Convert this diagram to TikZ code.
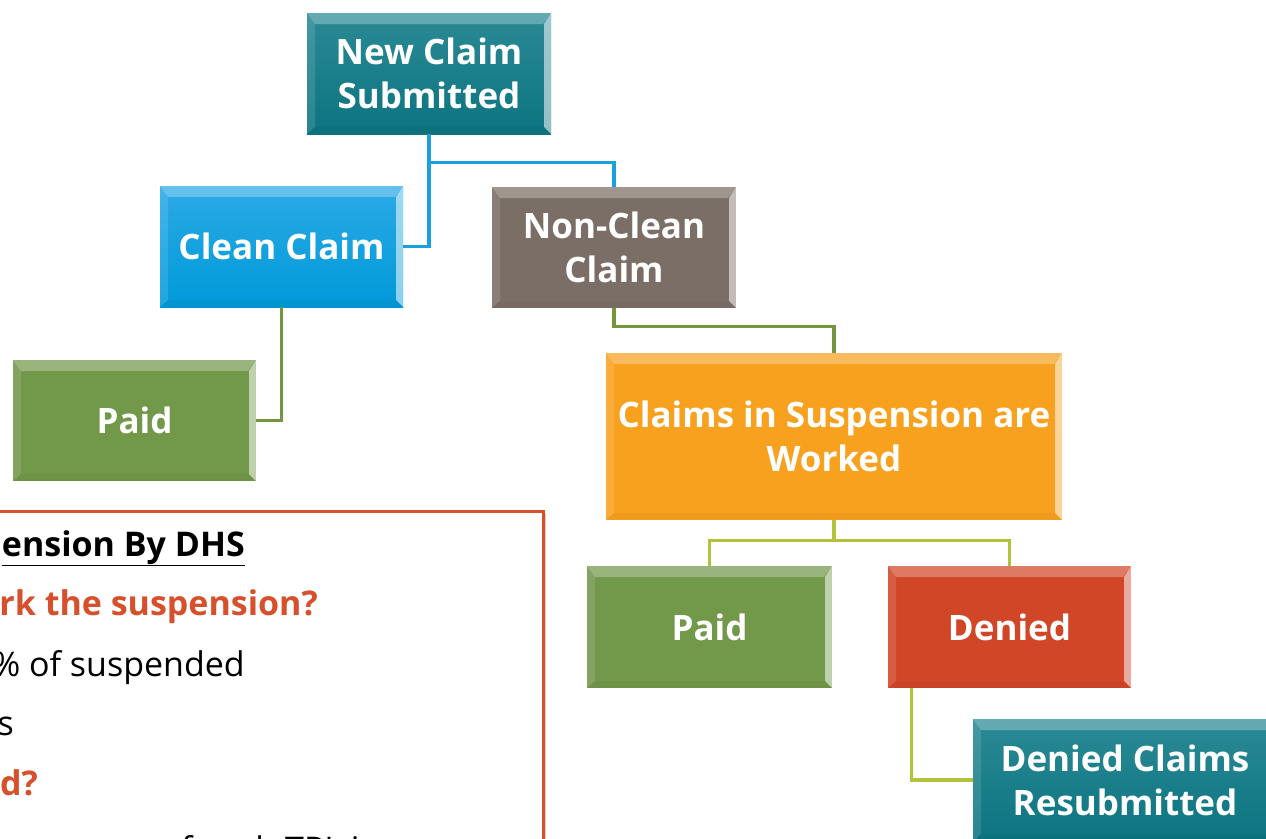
\documentclass[tikz,border=0pt]{standalone}
\usepackage{fontspec}
\setmainfont{Open Sans}
\usetikzlibrary{shadows,calc}

\definecolor{tealc}{HTML}{0C7480}
\definecolor{tealtop}{HTML}{2A8A95}
\definecolor{bluec}{HTML}{0199D9}
\definecolor{bluetop}{HTML}{2BAAE6}
\definecolor{taupec}{HTML}{7A6E66}
\definecolor{greenc}{HTML}{72984A}
\definecolor{orangec}{HTML}{F8A11F}
\definecolor{redc}{HTML}{D24628}
\definecolor{lineblue}{HTML}{1AA0DC}
\definecolor{linegreen}{HTML}{73963F}
\definecolor{lineyellow}{HTML}{B3C23A}
\definecolor{notered}{HTML}{D6502C}

\tikzset{
  bevel/.style={path picture={
    \coordinate (bnw) at (path picture bounding box.north west);
    \coordinate (bne) at (path picture bounding box.north east);
    \coordinate (bsw) at (path picture bounding box.south west);
    \coordinate (bse) at (path picture bounding box.south east);
    \fill[white,opacity=.28] (bnw) -- (bne) -- ([xshift=-8pt,yshift=-11pt]bne) -- ([xshift=8pt,yshift=-11pt]bnw) -- cycle;
    \fill[white,opacity=.55] (bne) -- (bse) -- ([xshift=-7pt,yshift=7pt]bse) -- ([xshift=-7pt,yshift=-11pt]bne) -- cycle;
    \fill[white,opacity=.12] (bnw) -- ([xshift=8pt,yshift=-11pt]bnw) -- ([xshift=8pt,yshift=7pt]bsw) -- (bsw) -- cycle;
    \fill[black,opacity=.03] (bsw) -- ([xshift=8pt,yshift=7pt]bsw) -- ([xshift=-7pt,yshift=7pt]bse) -- (bse) -- cycle;
  }},
  stepbox/.style={rectangle, inner sep=0pt, minimum width=244pt, minimum height=121pt,
    text=white, align=center, font=\bfseries\fontsize{35}{44}\selectfont, bevel},
  conn/.style={line width=3.2pt},
  notebox/.style={rectangle, draw=notered, line width=2.5pt, fill=white,
    drop shadow={shadow xshift=3pt, shadow yshift=-3pt, opacity=.35}},
  notetext/.style={anchor=base east, inner sep=0pt, font=\fontsize{34}{40}\selectfont},
  notehead/.style={notetext, font=\bfseries\fontsize{34}{40}\selectfont},
}

\begin{document}
\begin{tikzpicture}[x=1pt,y=-1pt]
\useasboundingbox (0,0) rectangle (1266,838);
\clip (0,0) rectangle (1266,838);

% boxes of the claim flow
\node[stepbox, top color=tealtop, bottom color=tealc] (new) at (429,73.5) {New Claim\\Submitted};
\node[stepbox, top color=bluetop, bottom color=bluec, minimum width=243pt] (clean) at (281.5,246.5) {Clean Claim};
\node[stepbox, fill=taupec] (nonclean) at (614,247.5) {Non-Clean\\Claim};
\node[stepbox, fill=greenc, minimum width=243pt] (paidL) at (134.5,420.5) {Paid};
\node[stepbox, fill=orangec, minimum width=456pt, minimum height=167pt] (susp) at (834,436.5) {Claims in Suspension are\\Worked};
\node[stepbox, fill=greenc, minimum width=245pt, minimum height=122pt] (paidR) at (709.5,627) {Paid};
\node[stepbox, fill=redc, minimum width=243pt, minimum height=122pt] (denied) at (1009.5,627) {Denied};
\node[stepbox, top color=tealtop, bottom color=tealc, minimum width=304pt, minimum height=122pt] (resub) at (1125,780) {Denied Claims\\Resubmitted};

% connectors
\draw[conn, lineblue] (new.south) |- (clean.east);
\draw[conn, lineblue] (new.south) -- ++(0,28) -| (nonclean.north);
\draw[conn, linegreen] (clean.south) |- (paidL.east);
\draw[conn, linegreen] (nonclean.south) -- ++(0,18) -| (susp.north);
\draw[conn, lineyellow] (susp.south) -- ++(0,20) -| (paidR.north);
\draw[conn, lineyellow] (susp.south) -- ++(0,20) -| (denied.north);
\draw[conn, lineyellow] ($(denied.south west)+(24,0)$) |- (resub.west);

% notes panel
\node[notebox, anchor=north west, minimum width=562pt, minimum height=360pt] (notes) at (-20,510) {};
\node[notehead] (n1) at (245,556) {\underline{ension By DHS}};
\node[notehead, text=notered] (n2) at (318,615) {rk the suspension?};
\node[notetext] (n3) at (245,676) {\% of suspended};
\node[notetext] (n4) at (14,735) {s};
\node[notehead, text=notered] (n5) at (38,795) {d?};
\node[notetext] (n6) at (376,861) {of each TPL is};
\end{tikzpicture}
\end{document}
